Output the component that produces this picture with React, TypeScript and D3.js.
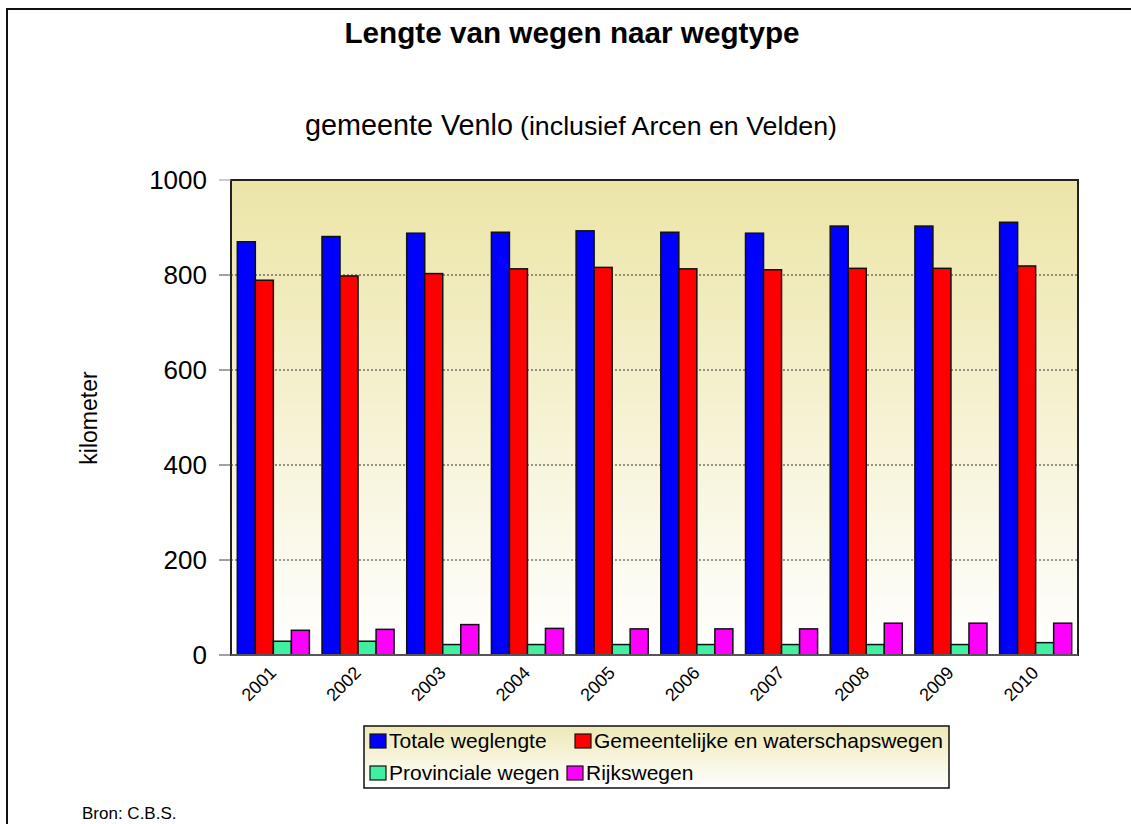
import * as d3 from "d3";

const years = ["2001", "2002", "2003", "2004", "2005", "2006", "2007", "2008", "2009", "2010"];
const totaleWeglengte = [870, 881, 888, 890, 893, 890, 888, 903, 903, 911];
const gemeentelijkeWegen = [789, 798, 803, 813, 816, 813, 811, 814, 814, 819];
const provincialeWegen = [29, 29, 22, 22, 22, 22, 22, 22, 22, 26];
const rijkswegen = [52, 54, 64, 56, 55, 55, 55, 67, 67, 67];
const seriesNames = ["Totale weglengte", "Gemeentelijke en waterschapswegen", "Provinciale wegen", "Rijkswegen"];
const yTicks = [0, 200, 400, 600, 800, 1000];

const WIDTH = 1131;
const HEIGHT = 824;
const PLOT = { left: 231, right: 1078, top: 180, bottom: 655 };
const FONT = "'Liberation Sans', Arial, sans-serif";

const colors = d3.scaleOrdinal<string>().domain(seriesNames).range(["#0000FF", "#FF0000", "#40F0A0", "#FF00FF"]);

export default function App() {
  const values = [totaleWeglengte, gemeentelijkeWegen, provincialeWegen, rijkswegen];

  const x0 = d3.scaleBand().domain(years).range([PLOT.left, PLOT.right]);
  const x1 = d3.scaleBand().domain(seriesNames).range([0, x0.bandwidth()]).paddingOuter(0.35);
  const y = d3.scaleLinear().domain([0, 1000]).range([PLOT.bottom, PLOT.top]);

  // legend rows are laid out like a flow, so x positions differ per row
  const legendItems = [
    { name: seriesNames[0], x: 370, y: 741 },
    { name: seriesNames[1], x: 575, y: 741 },
    { name: seriesNames[2], x: 370, y: 773 },
    { name: seriesNames[3], x: 567, y: 773 },
  ];

  return (
    <div style={{ position: "absolute", left: 0, top: 0 }}>
      <svg width={WIDTH} height={HEIGHT} style={{ display: "block", background: "#fff" }}>
        <defs>
          <linearGradient id="plotBg" x1="0" y1="0" x2="0" y2="1">
            <stop offset="0%" stopColor="#ECE5A7" />
            <stop offset="100%" stopColor="#FFFFFF" />
          </linearGradient>
          <linearGradient id="legendBg" x1="0" y1="0" x2="0" y2="1">
            <stop offset="0%" stopColor="#EEE8B6" />
            <stop offset="100%" stopColor="#FFFFFF" />
          </linearGradient>
        </defs>

        {/* outer frame (runs off the right and bottom edge) */}
        <path d={`M7,${HEIGHT} V9 H${WIDTH}`} fill="none" stroke="#111" strokeWidth={2} />

        <text x={572} y={43} textAnchor="middle" fontFamily={FONT} fontWeight="bold" fontSize={30} textLength={455} lengthAdjust="spacingAndGlyphs">
          Lengte van wegen naar wegtype
        </text>
        <text x={305} y={135} fontFamily={FONT} fontSize={30} textLength={208} lengthAdjust="spacingAndGlyphs">
          gemeente Venlo
        </text>
        <text x={520} y={135} fontFamily={FONT} fontSize={26} textLength={317} lengthAdjust="spacingAndGlyphs">
          (inclusief Arcen en Velden)
        </text>

        {/* plot area */}
        <rect x={PLOT.left} y={PLOT.top} width={PLOT.right - PLOT.left} height={PLOT.bottom - PLOT.top} fill="url(#plotBg)" />
        {yTicks.filter((t) => t > 0 && t < 1000).map((t) => (
          <line key={t} x1={PLOT.left} x2={PLOT.right} y1={y(t)} y2={y(t)} stroke="#333" strokeWidth={1} strokeDasharray="2,2" />
        ))}

        {years.map((yr, i) => (
          <g key={yr} transform={`translate(${x0(yr)},0)`}>
            {seriesNames.map((s, j) => (
              <rect
                key={s}
                x={x1(s)}
                y={y(values[j][i])}
                width={x1.bandwidth()}
                height={y(0) - y(values[j][i])}
                fill={colors(s)}
                stroke="#111"
                strokeWidth={1.5}
              />
            ))}
          </g>
        ))}

        <rect x={PLOT.left} y={PLOT.top} width={PLOT.right - PLOT.left} height={PLOT.bottom - PLOT.top} fill="none" stroke="#222" strokeWidth={2} />
        <line x1={PLOT.left} x2={PLOT.right} y1={PLOT.bottom} y2={PLOT.bottom} stroke="#555" strokeWidth={2} />

        {/* y axis */}
        {yTicks.map((t) => (
          <g key={t}>
            <line x1={PLOT.left - 12} x2={PLOT.left} y1={y(t)} y2={y(t)} stroke={t === 1000 ? "#999" : "#444"} strokeWidth={1} />
            <text x={207} y={y(t)} dy="0.35em" textAnchor="end" fontFamily={FONT} fontSize={26}>
              {t}
            </text>
          </g>
        ))}
        <text transform="translate(97,418) rotate(-90)" textAnchor="middle" fontFamily={FONT} fontSize={23}>
          kilometer
        </text>

        {/* x labels */}
        {years.map((yr) => {
          const cx = (x0(yr) ?? 0) + x0.bandwidth() / 2;
          return (
            <text key={yr} transform={`translate(${cx + 4},674) rotate(-45)`} textAnchor="end" fontFamily={FONT} fontSize={18}>
              {yr}
            </text>
          );
        })}

        {/* legend */}
        <rect x={364} y={726} width={585} height={62} fill="url(#legendBg)" stroke="#111" strokeWidth={1.5} />
        {legendItems.map((it) => (
          <g key={it.name}>
            <rect x={it.x} y={it.y - 7} width={16} height={14} fill={colors(it.name)} stroke="#111" strokeWidth={1.2} />
            <text x={it.x + 19} y={it.y} dy="0.35em" fontFamily={FONT} fontSize={21}>
              {it.name}
            </text>
          </g>
        ))}

        <text x={82} y={819} fontFamily={FONT} fontSize={17}>
          Bron: C.B.S.
        </text>
      </svg>
    </div>
  );
}
